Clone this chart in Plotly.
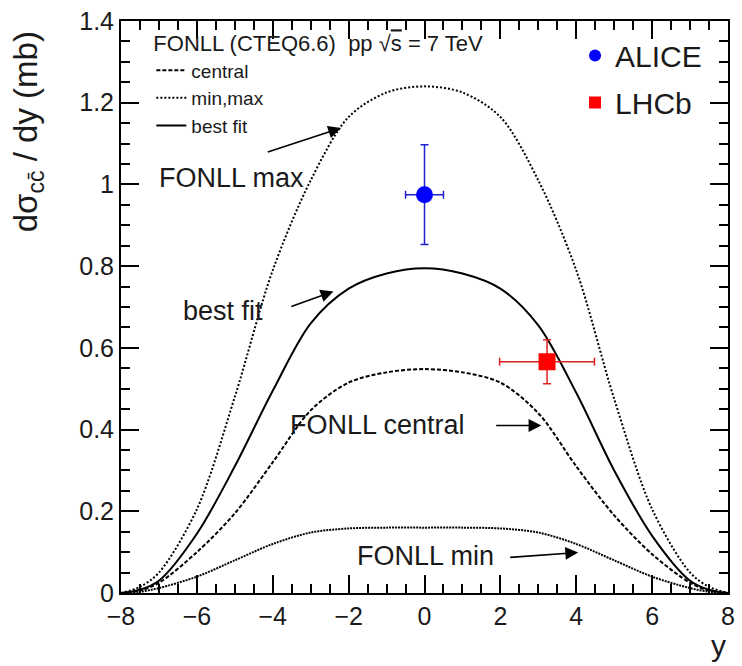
import plotly.graph_objects as go

# ---------------- data ----------------
y_grid = [-8, -7.5, -7, -6, -5, -4, -3, -2, -1, 0, 1, 2, 3, 4, 5, 6, 7, 7.5, 8]
fonll_max = [0.0, 0.015, 0.05, 0.205, 0.48, 0.79, 1.01, 1.165, 1.225, 1.24, 1.225, 1.165, 1.01, 0.79, 0.475, 0.205, 0.05, 0.015, 0.0]
best_fit = [0.0, 0.008, 0.03, 0.145, 0.31, 0.495, 0.66, 0.745, 0.782, 0.795, 0.782, 0.745, 0.655, 0.49, 0.30, 0.14, 0.03, 0.008, 0.0]
central = [0.0, 0.006, 0.025, 0.10, 0.195, 0.32, 0.447, 0.515, 0.54, 0.548, 0.54, 0.515, 0.44, 0.31, 0.19, 0.095, 0.025, 0.006, 0.0]
fonll_min = [0.0, 0.003, 0.012, 0.04, 0.08, 0.12, 0.148, 0.158, 0.16, 0.16, 0.16, 0.158, 0.148, 0.12, 0.08, 0.04, 0.012, 0.003, 0.0]

alice_x = [0.0]
alice_y = [0.975]
alice_xerr = [0.5]
alice_yerr = [0.122]

lhcb_x = [3.23]
lhcb_y = [0.566]
lhcb_xerr = [1.25]
lhcb_yerr = [0.054]

FONT = "Liberation Sans, Arial, sans-serif"
TXT = "#1a1a1a"

fig = go.Figure()

fig.add_trace(go.Scatter(x=y_grid, y=central, mode="lines", name="central",
                         line=dict(color="black", width=2, dash="4px,2px", shape="spline", smoothing=0.9),
                         legend="legend"))
fig.add_trace(go.Scatter(x=y_grid, y=fonll_max, mode="lines", name="min,max",
                         line=dict(color="black", width=2, dash="2px,2px", shape="spline", smoothing=0.9),
                         legend="legend"))
fig.add_trace(go.Scatter(x=y_grid, y=fonll_min, mode="lines", name="min", showlegend=False,
                         line=dict(color="black", width=2, dash="2px,1px", shape="spline", smoothing=0.9),
                         legend="legend"))
fig.add_trace(go.Scatter(x=y_grid, y=best_fit, mode="lines", name="best fit",
                         line=dict(color="black", width=2, shape="spline", smoothing=0.9),
                         legend="legend"))

fig.add_trace(go.Scatter(x=alice_x, y=alice_y, mode="markers", name="ALICE",
                         marker=dict(symbol="circle", size=17, color="#0000ff"),
                         error_x=dict(type="data", array=alice_xerr, color="#2020d0", thickness=1.5, width=4),
                         error_y=dict(type="data", array=alice_yerr, color="#2020d0", thickness=1.5, width=4),
                         legend="legend2", legendgroup="a"))
fig.add_trace(go.Scatter(x=lhcb_x, y=lhcb_y, mode="markers", name="LHCb",
                         marker=dict(symbol="square", size=17, color="#ff0000"),
                         error_x=dict(type="data", array=lhcb_xerr, color="#e02020", thickness=1.5, width=4),
                         error_y=dict(type="data", array=lhcb_yerr, color="#e02020", thickness=1.5, width=4),
                         legend="legend2", legendgroup="b"))

axis_common = dict(showline=True, linecolor="black", linewidth=2, mirror="allticks",
                   ticks="inside", tickcolor="black", tickwidth=1.5, ticklen=18,
                   showgrid=False, zeroline=False,
                   tickfont=dict(family=FONT, size=25, color=TXT))

fig.update_xaxes(range=[-8, 8], dtick=2, tick0=-8,
                 minor=dict(dtick=0.5, ticks="inside", ticklen=9, tickcolor="black", tickwidth=1.5),
                 **axis_common)
fig.update_yaxes(range=[0, 1.4], dtick=0.2, tick0=0,
                 minor=dict(dtick=0.05, ticks="inside", ticklen=9, tickcolor="black", tickwidth=1.5),
                 **axis_common)

afont = dict(family=FONT, size=27, color=TXT)
arrow = dict(axref="x", ayref="y", text="", showarrow=True,
             arrowhead=2, arrowsize=1.6, arrowwidth=1.6, arrowcolor="black")
annots = [
    dict(x=-5.1, y=1.015, text="FONLL max", showarrow=False, font=afont),
    dict(x=-5.3, y=0.69, text="best fit", showarrow=False, font=afont),
    dict(x=-1.25, y=0.41, text="FONLL central", showarrow=False, font=afont),
    dict(x=0.03, y=0.09, text="FONLL min", showarrow=False, font=afont),
    # arrows
    dict(x=-2.2, y=1.138, ax=-4.17, ay=1.078, **arrow),
    dict(x=-2.4, y=0.738, ax=-3.55, ay=0.70, **arrow),
    dict(x=3.08, y=0.41, ax=1.85, ay=0.41, **arrow),
    dict(x=4.05, y=0.099, ax=2.22, ay=0.087, **arrow),
    # axis titles
    dict(x=-0.115, y=0.985, xref="paper", yref="paper", text="dσ<sub>cc̄</sub> / dy (mb)", textangle=-90,
         showarrow=False, xanchor="right", yanchor="top", font=dict(family=FONT, size=33, color=TXT)),
    dict(x=1.0, y=-0.06, xref="paper", yref="paper", text="y", showarrow=False,
         xanchor="right", yanchor="top", font=dict(family=FONT, size=30, color=TXT)),
]

fig.update_layout(
    width=742, height=666,
    margin=dict(l=121, r=7, t=15, b=73),
    paper_bgcolor="white", plot_bgcolor="white",
    showlegend=True,
    annotations=annots,
    legend=dict(x=0.05, y=0.997, xanchor="left", yanchor="top", bgcolor="rgba(0,0,0,0)",
                title=dict(text="FONLL (CTEQ6.6)  pp √<span style='text-decoration:overline'>s</span> = 7 TeV",
                           font=dict(family=FONT, size=22, color=TXT)),
                font=dict(family=FONT, size=19, color=TXT), traceorder="normal",
                itemwidth=30, tracegroupgap=0),
    legend2=dict(x=0.748, y=0.985, xanchor="left", yanchor="top", bgcolor="rgba(0,0,0,0)",
                 font=dict(family=FONT, size=30, color=TXT), traceorder="grouped",
                 tracegroupgap=5, itemsizing="constant"),
)

fig.write_html("out.html")
